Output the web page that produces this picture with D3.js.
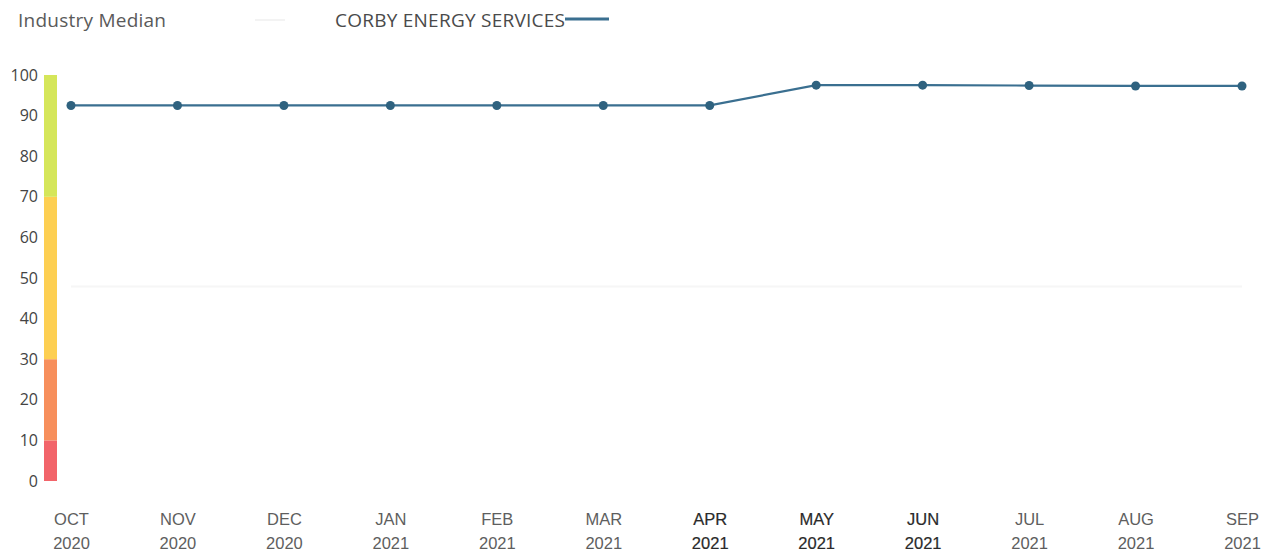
<!DOCTYPE html>
<html>
<head>
<meta charset="utf-8">
<script src="https://cdn.jsdelivr.net/npm/d3@7"></script>
<style>
  html, body { margin: 0; padding: 0; background: #fff; }
  svg { display: block; font-family: "Open Sans", sans-serif; }
</style>
</head>
<body>
<svg id="chart" width="1274" height="553"></svg>
<script>
// Monthly score for the company and the industry median
const months = ["OCT", "NOV", "DEC", "JAN", "FEB", "MAR", "APR", "MAY", "JUN", "JUL", "AUG", "SEP"];
const years  = ["2020", "2020", "2020", "2021", "2021", "2021", "2021", "2021", "2021", "2021", "2021", "2021"];
const corbyScores = [92.5, 92.5, 92.5, 92.5, 92.5, 92.5, 92.5, 97.5, 97.5, 97.4, 97.3, 97.3];
const industryMedian = [47.9, 47.9, 47.9, 47.9, 47.9, 47.9, 47.9, 47.9, 47.9, 47.9, 47.9, 47.9];
const yTicks = [0, 10, 20, 30, 40, 50, 60, 70, 80, 90, 100];
// Rating bands shown on the score axis
const bands = [
  { from: 0,  to: 10,  color: "#f2646a" },
  { from: 10, to: 30,  color: "#f78f5c" },
  { from: 30, to: 70,  color: "#fdcf52" },
  { from: 70, to: 100, color: "#d5e65a" }
];
const emphasised = ["APR", "MAY", "JUN"];

const svg = d3.select("#chart");
const keys = months.map((m, i) => m + " " + years[i]);

const x = d3.scalePoint().domain(keys).range([71, 1242]);
const y = d3.scaleLinear().domain([0, 100]).range([481, 75]);

// Score band strip
svg.append("g").selectAll("rect").data(bands).join("rect")
  .attr("x", 44).attr("width", 13)
  .attr("y", d => y(d.to))
  .attr("height", d => y(d.from) - y(d.to))
  .attr("fill", d => d.color);

// Y axis labels
const yAxis = svg.append("g")
  .attr("transform", "translate(38,0)")
  .call(d3.axisLeft(y).tickValues(yTicks).tickSize(0).tickPadding(0));
yAxis.select(".domain").remove();
yAxis.selectAll("text")
  .attr("fill", "#444")
  .style("font-size", "16px")
  .style("font-family", "'Open Sans', sans-serif");

// X axis labels (month / year)
const xAxis = svg.append("g")
  .attr("transform", "translate(0,508)")
  .call(d3.axisBottom(x).tickSize(0).tickPadding(0).tickFormat(() => ""));
xAxis.select(".domain").remove();
xAxis.selectAll(".tick text").remove();
xAxis.selectAll(".tick").each(function(d, i) {
  const g = d3.select(this);
  const strong = emphasised.includes(months[i]);
  const t = g.append("text")
    .attr("text-anchor", "middle")
    .attr("fill", strong ? "#2a2a2a" : "#5e5e5e")
    .attr("stroke", strong ? "#2a2a2a" : "none")
    .attr("stroke-width", strong ? 0.2 : 0)
    .style("font-size", "16.5px");
  t.append("tspan").attr("x", 0).attr("y", 17).text(months[i]);
  t.append("tspan").attr("x", 0).attr("y", 41).text(years[i]);
});

// Industry median line (very faint)
const line = d3.line().x((d, i) => x(keys[i])).y(d => y(d));
svg.append("path")
  .datum(industryMedian)
  .attr("d", line)
  .attr("fill", "none")
  .attr("stroke", "#f6f6f6")
  .attr("stroke-width", 2);

// Company line with markers
svg.append("path")
  .datum(corbyScores)
  .attr("d", line)
  .attr("fill", "none")
  .attr("stroke", "#3a6f90")
  .attr("stroke-width", 2.2);
svg.append("g").selectAll("circle").data(corbyScores).join("circle")
  .attr("cx", (d, i) => x(keys[i]))
  .attr("cy", d => y(d))
  .attr("r", 4.5)
  .attr("fill", "#2f627f");

// Legend
const legend = svg.append("g");
legend.append("text")
  .attr("x", 18).attr("y", 27)
  .attr("fill", "#5a5a5a")
  .attr("textLength", 148)
  .style("font-size", "19px")
  .text("Industry Median");
legend.append("line")
  .attr("x1", 255).attr("x2", 285).attr("y1", 20).attr("y2", 20)
  .attr("stroke", "#f3f3f3").attr("stroke-width", 2);
legend.append("text")
  .attr("x", 335).attr("y", 27)
  .attr("fill", "#4a4a4a")
  .attr("textLength", 230)
  .style("font-size", "19px")
  .text("CORBY ENERGY SERVICES");
legend.append("line")
  .attr("x1", 565).attr("x2", 609).attr("y1", 19).attr("y2", 19)
  .attr("stroke", "#3a6f90").attr("stroke-width", 3);
</script>
</body>
</html>
